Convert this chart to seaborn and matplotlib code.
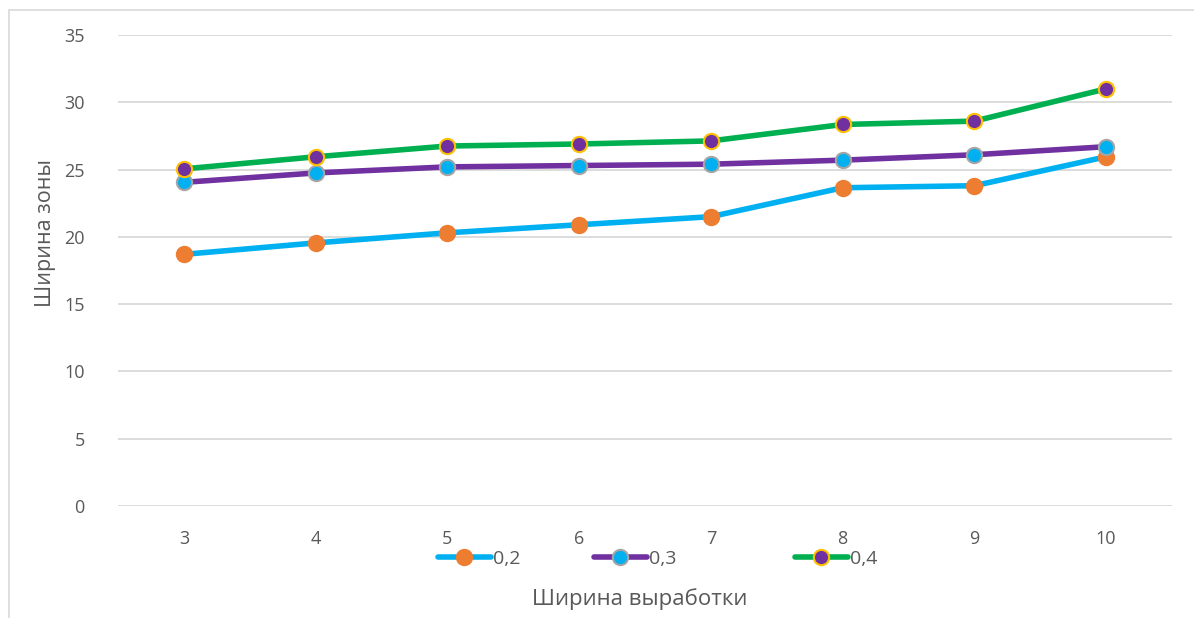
import matplotlib
matplotlib.use("Agg")
import matplotlib.pyplot as plt
import matplotlib.patches as mpatches
from matplotlib.lines import Line2D
import seaborn as sns
import pandas as pd

# Ширина выработки (x categories)
widths = [3, 4, 5, 6, 7, 8, 9, 10]
series_names = ["0,2", "0,3", "0,4"]
zone_02 = [18.7, 19.55, 20.3, 20.9, 21.5, 23.65, 23.8, 25.95]
zone_03 = [24.05, 24.75, 25.2, 25.3, 25.4, 25.7, 26.1, 26.7]
zone_04 = [25.05, 25.95, 26.75, 26.9, 27.13, 28.35, 28.6, 31.0]
y_ticks = [0, 5, 10, 15, 20, 25, 30, 35]

sns.set_theme(style="white")
plt.rcParams["font.family"] = ["Open Sans", "DejaVu Sans"]

W, H = 1194, 618
fig = plt.figure(figsize=(W / 100, H / 100), dpi=100)
fig.patch.set_facecolor("white")
ax = fig.add_axes([118 / W, 1 - 506 / H, (1172 - 118) / W, (506 - 35) / H])

styles = [
    dict(line="#00B0F0", face="#ED7D31", edge="#ED7D31"),
    dict(line="#7030A0", face="#00B0F0", edge="#A5A5A5"),
    dict(line="#00B050", face="#7030A0", edge="#FFC000"),
]
values = [zone_02, zone_03, zone_04]

handles = []
for name, vals, st in zip(series_names, values, styles):
    df = pd.DataFrame({"x": widths, "y": vals})
    sns.lineplot(data=df, x="x", y="y", ax=ax, color=st["line"], linewidth=4,
                 marker="o", markersize=11, markerfacecolor=st["face"],
                 markeredgecolor=st["edge"], markeredgewidth=1.5,
                 solid_capstyle="round", zorder=3)
    handles.append(Line2D([], [], color=st["line"], linewidth=4, marker="o",
                          markersize=11, markerfacecolor=st["face"],
                          markeredgecolor=st["edge"], markeredgewidth=1.5,
                          solid_capstyle="round", label=name))

ax.set_xlim(2.5, 10.5)
ax.set_ylim(0, 35)
ax.set_xticks(widths)
ax.set_xticklabels([str(w) for w in widths])
ax.set_yticks(y_ticks)
ax.grid(axis="y", color="#D9D9D9", linewidth=1.3)
ax.grid(axis="x", visible=False)
ax.set_axisbelow(True)
for s in ax.spines.values():
    s.set_visible(False)
ax.tick_params(axis="both", length=0, labelsize=13, labelcolor="#595959")
ax.tick_params(axis="y", pad=24)
ax.tick_params(axis="x", pad=17)

ax.set_xlabel("")
ax.set_ylabel("Ширина зоны", fontsize=15.5, color="#595959")
ax.yaxis.set_label_coords((56 - 118) / 1054, (506 - 233) / 471)
fig.text(640 / W, 1 - 599 / H, "Ширина выработки", fontsize=16,
         color="#595959", ha="center", va="center")

# one legend entry per series, placed along the bottom
legend_left = [438, 594, 795]
for h, x0 in zip(handles, legend_left):
    fig.legend(handles=[h], loc="center left",
               bbox_to_anchor=(x0 / W, 1 - 559 / H), frameon=False,
               fontsize=14, handlelength=2.7, handletextpad=0.15,
               borderaxespad=0, borderpad=0, labelcolor="#595959")

# outer chart border
fig.patches.append(mpatches.Rectangle((9 / W, -0.1), 1.2, 1 - 10 / H + 0.1,
                                      transform=fig.transFigure, fill=False,
                                      edgecolor="#D9D9D9", linewidth=1.2))

fig.savefig("out.png", dpi=100)
